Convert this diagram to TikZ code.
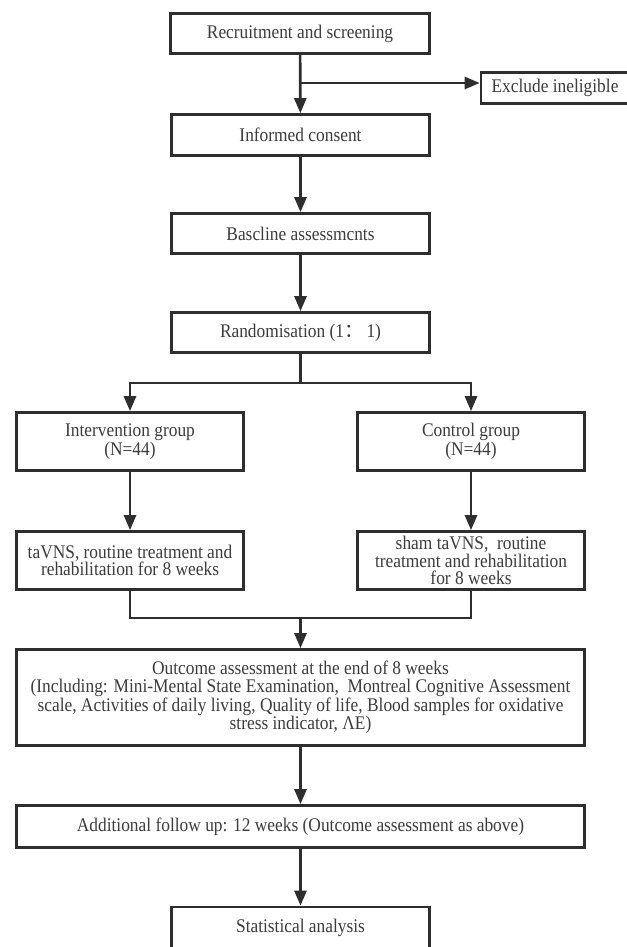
\documentclass[tikz,border=0pt]{standalone}
\usepackage{fontspec}
\setmainfont{Liberation Serif}[FakeStretch=0.9]
\newfontfamily\cjk{Noto Sans CJK SC}
\usetikzlibrary{arrows.meta,calc}
\definecolor{linec}{HTML}{2E2E2E}
\definecolor{textc}{HTML}{3C3C3C}
\begin{document}
\begin{tikzpicture}[x=1pt,y=-1pt,
  box/.style={draw=linec, line width=2.7pt, text=textc, align=center, inner sep=0pt,
    font=\fontsize{19.3}{17.5}\selectfont},
  arr/.style={draw=linec, line width=2.7pt, -{Triangle[length=15pt,width=12pt]}},
  ln/.style={draw=linec, line width=2.7pt}]
\useasboundingbox (0,0) rectangle (626,947);
\fill[white] (0,0) rectangle (626,947);
\node[box, minimum width=259pt, minimum height=40pt] (rec) at (300,33.5) {Recruitment and screening};
\node[box, minimum width=148pt, minimum height=31pt] (excl) at (555,88) {Exclude ineligible};
\node[box, minimum width=258pt, minimum height=41pt] (cons) at (300.5,135) {Informed consent};
\node[box, minimum width=258pt, minimum height=40pt] (base) at (300.5,233.5) {Bascline assessmcnts};
\node[box, minimum width=258pt, minimum height=40pt] (rand) at (300.5,332.5) {Randomisation (1{\cjk ：}\,1)};
\node[box, minimum width=227pt, minimum height=58pt] (intv) at (130,441.5) {Intervention group\\(N=44)};
\node[box, minimum width=227pt, minimum height=58pt] (ctrl) at (471,441.5) {Control group\\(N=44)};
\node[box, minimum width=227pt, minimum height=58pt] (trt1) at (130,560.5) {taVNS, routine treatment and\\rehabilitation for 8 weeks};
\node[box, minimum width=227pt, minimum height=58pt] (trt2) at (471,560.5) {sham taVNS,\ \ routine\\treatment and rehabilitation\\for 8 weeks};
\node[box, minimum width=568pt, minimum height=96pt] (outc) at (300.5,697.5) {Outcome assessment at the end of 8 weeks\\(Including: Mini-Mental State Examination,\ \ Montreal Cognitive Assessment\\scale, Activities of daily living, Quality of life, Blood samples for oxidative\\stress indicator, ΛE)};
\node[box, minimum width=568pt, minimum height=42pt] (addl) at (300.5,826.5) {Additional follow up: 12 weeks (Outcome assessment as above)};
\node[box, minimum width=258pt, minimum height=42pt] (stat) at (300.5,928) {Statistical analysis};
\coordinate (jx) at (300.5,83);
\coordinate (jr) at (300.5,383);
\coordinate (jm) at (300.5,618);
\draw[arr] (rec) -- (cons);
\draw[arr] (jx) -- (jx -| excl.west);
\draw[arr] (cons) -- (base);
\draw[arr] (base) -- (rand);
\draw[ln] (rand.south) -- (jr);
\draw[arr] (jr) -| (intv.north);
\draw[arr] (jr) -| (ctrl.north);
\draw[arr] (intv) -- (trt1);
\draw[arr] (ctrl) -- (trt2);
\draw[ln] (trt1.south) |- (jm);
\draw[ln] (trt2.south) |- (jm);
\draw[arr] (jm) -- (outc.north);
\draw[arr] (outc) -- (addl);
\draw[arr] (addl) -- (stat);
\end{tikzpicture}
\end{document}
